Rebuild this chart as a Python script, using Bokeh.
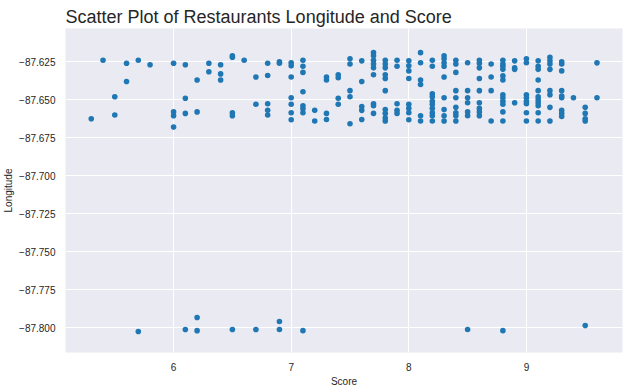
from bokeh.plotting import figure
from bokeh.models import FixedTicker, CustomJSTickFormatter, Range1d, ColumnDataSource
from bokeh.embed import file_html
from bokeh.resources import INLINE

# Restaurant score (x) and longitude (y)
score = [
    5.3, 5.4, 5.5, 5.5, 5.6, 5.6, 5.7, 5.7, 5.8,
    6.0, 6.0, 6.0, 6.0,
    6.1, 6.1, 6.1, 6.1,
    6.2, 6.2, 6.2, 6.2,
    6.3, 6.3,
    6.4, 6.4, 6.4,
    6.5, 6.5, 6.5, 6.5, 6.5,
    6.6,
    6.7, 6.7, 6.7,
    6.8, 6.8, 6.8, 6.8, 6.8,
    6.9, 6.9, 6.9, 6.9,
    7.0, 7.0, 7.0, 7.0, 7.0, 7.0, 7.0,
    7.1, 7.1, 7.1, 7.1, 7.1, 7.1, 7.1, 7.1,
    7.2, 7.2,
    7.3, 7.3, 7.3, 7.3,
    7.4, 7.4, 7.4, 7.4,
    7.5, 7.5, 7.5, 7.5, 7.5,
    7.6, 7.6, 7.6, 7.6, 7.6,
    7.7, 7.7, 7.7, 7.7, 7.7, 7.7, 7.7, 7.7, 7.7,
    7.8, 7.8, 7.8, 7.8, 7.8, 7.8, 7.8, 7.8, 7.8, 7.8,
    7.9, 7.9, 7.9, 7.9, 7.9,
    8.0, 8.0, 8.0, 8.0, 8.0, 8.0, 8.0, 8.0,
    8.1, 8.1, 8.1, 8.1, 8.1, 8.1,
    8.2, 8.2, 8.2, 8.2, 8.2, 8.2, 8.2, 8.2, 8.2, 8.2,
    8.3, 8.3, 8.3, 8.3, 8.3, 8.3, 8.3, 8.3, 8.3,
    8.4, 8.4, 8.4, 8.4, 8.4, 8.4, 8.4, 8.4, 8.4,
    8.5, 8.5, 8.5, 8.5, 8.5, 8.5, 8.5,
    8.6, 8.6, 8.6, 8.6, 8.6, 8.6, 8.6, 8.6, 8.6,
    8.7, 8.7, 8.7, 8.7,
    8.8, 8.8, 8.8, 8.8, 8.8, 8.8, 8.8, 8.8, 8.8, 8.8, 8.8, 8.8, 8.8,
    8.9, 8.9, 8.9, 8.9,
    9.0, 9.0, 9.0, 9.0, 9.0, 9.0, 9.0, 9.0,
    9.1, 9.1, 9.1, 9.1, 9.1, 9.1, 9.1, 9.1, 9.1, 9.1, 9.1,
    9.2, 9.2, 9.2, 9.2, 9.2, 9.2, 9.2, 9.2,
    9.3, 9.3, 9.3, 9.3, 9.3, 9.3, 9.3, 9.3, 9.3,
    9.4,
    9.5, 9.5, 9.5, 9.5, 9.5,
    9.6, 9.6,
]

longitude = [
    -87.6625, -87.624, -87.648, -87.660, -87.626, -87.638, -87.624, -87.8026, -87.627,
    -87.626, -87.658, -87.6605, -87.668,
    -87.627, -87.649, -87.659, -87.8013,
    -87.637, -87.658, -87.7934, -87.802,
    -87.626, -87.6316,
    -87.627, -87.633, -87.637,
    -87.621, -87.622, -87.6586, -87.6605, -87.8013,
    -87.624,
    -87.635, -87.653, -87.8013,
    -87.626, -87.634, -87.6526, -87.657, -87.660,
    -87.625, -87.626, -87.796, -87.8013,
    -87.6257, -87.6277, -87.635, -87.6487, -87.653, -87.6586, -87.6632,
    -87.624, -87.628, -87.632, -87.6447, -87.654, -87.656, -87.6586, -87.802,
    -87.657, -87.664,
    -87.635, -87.637, -87.659, -87.663,
    -87.6336, -87.6355, -87.649, -87.653,
    -87.623, -87.6265, -87.644, -87.648, -87.6658,
    -87.6244, -87.638, -87.6545, -87.657, -87.663,
    -87.619, -87.621, -87.624, -87.6265, -87.629, -87.6336, -87.6526, -87.654, -87.659,
    -87.624, -87.6265, -87.629, -87.6336, -87.636, -87.644, -87.6565, -87.659, -87.662, -87.664,
    -87.624, -87.628, -87.6526, -87.657, -87.659,
    -87.6244, -87.6277, -87.631, -87.636, -87.653, -87.6557, -87.6586, -87.6632,
    -87.619, -87.6257, -87.637, -87.640, -87.6605, -87.664,
    -87.624, -87.628, -87.646, -87.648, -87.651, -87.653, -87.6557, -87.6586, -87.6605, -87.664,
    -87.621, -87.623, -87.6257, -87.628, -87.635, -87.6487, -87.6565, -87.6605, -87.664,
    -87.624, -87.6265, -87.632, -87.644, -87.6487, -87.655, -87.6586, -87.6605, -87.664,
    -87.6257, -87.644, -87.6487, -87.652, -87.658, -87.6605, -87.8013,
    -87.624, -87.626, -87.629, -87.636, -87.644, -87.652, -87.6557, -87.658, -87.6605,
    -87.6265, -87.635, -87.644, -87.664,
    -87.624, -87.6265, -87.628, -87.630, -87.6343, -87.637, -87.6467, -87.6487, -87.651, -87.653, -87.658, -87.664, -87.802,
    -87.6244, -87.629, -87.630, -87.652,
    -87.623, -87.6257, -87.6467, -87.6487, -87.651, -87.6526, -87.6586, -87.664,
    -87.6244, -87.628, -87.630, -87.637, -87.644, -87.648, -87.650, -87.652, -87.654, -87.6586, -87.664,
    -87.622, -87.6244, -87.6265, -87.630, -87.644, -87.6467, -87.655, -87.664,
    -87.625, -87.6265, -87.631, -87.644, -87.6475, -87.6487, -87.657, -87.659, -87.661,
    -87.6487,
    -87.655, -87.659, -87.6625, -87.664, -87.7987,
    -87.6257, -87.6487,
]

x_ticks = [6, 7, 8, 9]
y_ticks = [-87.800, -87.775, -87.750, -87.725, -87.700, -87.675, -87.650, -87.625]

FONT = "Liberation Sans"
TEXT = "#262626"

source = ColumnDataSource(data=dict(score=score, longitude=longitude))

p = figure(
    width=632, height=389,
    output_backend="svg", toolbar_location=None,
    x_range=Range1d(5.081, 9.817), y_range=Range1d(-87.8164, -87.6031),
    title="Scatter Plot of Restaurants Longitude and Score",
    min_border_left=65, min_border_right=10, min_border_top=28, min_border_bottom=37,
)

p.scatter("score", "longitude", source=source, size=5.6,
          fill_color="#1f77b4", line_color=None)

p.background_fill_color = "#EAEAF2"
p.border_fill_color = "white"
p.outline_line_color = None

p.title.text_font = FONT
p.title.text_font_size = "18px"
p.title.text_font_style = "normal"
p.title.text_color = TEXT
p.title.align = "left"
p.title.standoff = 4

for g in (p.xgrid, p.ygrid):
    g.grid_line_color = "white"
    g.grid_line_width = 1

p.xaxis.ticker = FixedTicker(ticks=x_ticks)
p.yaxis.ticker = FixedTicker(ticks=y_ticks)
p.xaxis.formatter = CustomJSTickFormatter(code="return tick.toFixed(0);")
p.yaxis.formatter = CustomJSTickFormatter(
    code="return (tick < 0 ? '\u2212' : '') + Math.abs(tick).toFixed(3);")

p.xaxis.axis_label = "Score"
p.yaxis.axis_label = "Longitude"

for ax in (p.xaxis, p.yaxis):
    ax.axis_line_color = None
    ax.major_tick_line_color = None
    ax.minor_tick_line_color = None
    ax.major_label_text_font = FONT
    ax.major_label_text_font_size = "10px"
    ax.major_label_text_color = TEXT
    ax.axis_label_text_font = FONT
    ax.axis_label_text_font_size = "10px"
    ax.axis_label_text_font_style = "normal"
    ax.axis_label_text_color = TEXT
    ax.major_label_standoff = 4
    ax.axis_label_standoff = 2

open("out.html", "w").write(file_html(p, INLINE))
